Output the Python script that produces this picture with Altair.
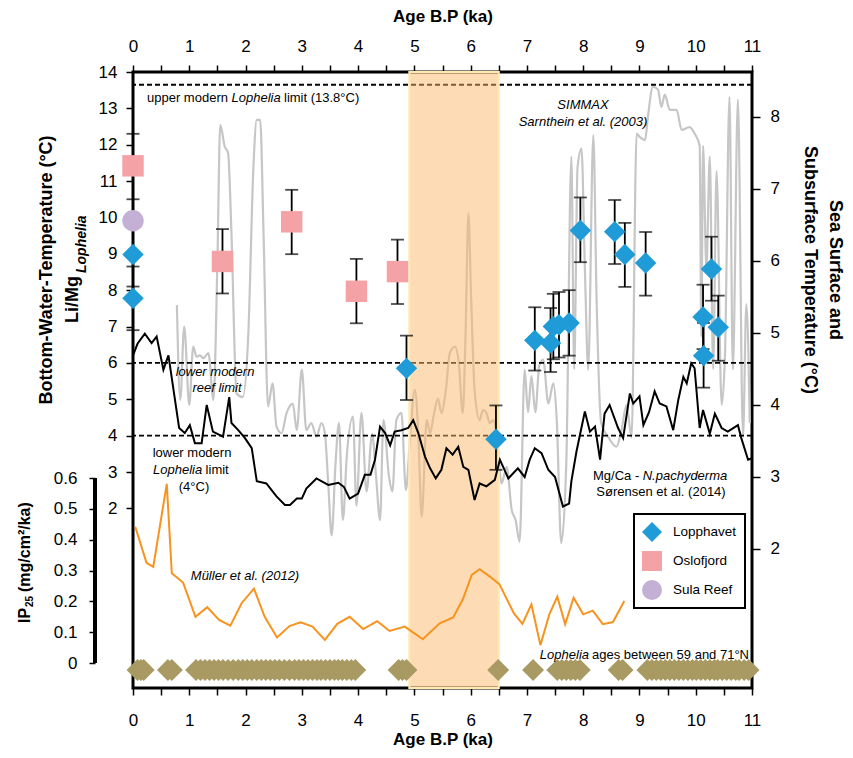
import altair as alt
import pandas as pd

FONT = "Liberation Sans"
W, H = 619, 616

# ---------------- data ----------------
lop_age = [0.0, 0.0, 4.86, 6.45, 7.14, 7.42, 7.47, 7.57, 7.75, 7.95, 8.56, 8.74, 9.11, 10.13, 10.14, 10.28, 10.40]
lop_T   = [8.98, 7.78, 5.85, 3.90, 6.62, 6.55, 7.00, 7.05, 7.10, 9.64, 9.61, 8.98, 8.75, 7.26, 6.20, 8.58, 6.98]
lop_lo  = [8.10, 6.90, 4.98, 3.06, 5.79, 5.75, 6.10, 6.15, 6.20, 8.77, 8.72, 8.09, 7.85, 6.38, 5.32, 7.71, 6.06]
lop_hi  = [9.85, 8.65, 6.75, 4.83, 7.53, 7.51, 7.90, 7.95, 8.00, 10.55, 10.48, 9.85, 9.60, 8.15, 7.10, 9.47, 7.85]

osl_age = [0.0, 1.59, 2.82, 3.97, 4.70]
osl_T   = [11.42, 8.79, 9.88, 7.97, 8.51]
osl_lo  = [10.50, 7.91, 8.99, 7.09, 7.62]
osl_hi  = [12.30, 9.68, 10.76, 8.86, 9.39]

sula_age = [0.0]
sula_T = [9.91]

sites = ["Lopphavet", "Oslofjord", "Sula Reef"]
site_colors = ["#1F9BD7", "#F4A2A5", "#C4B0D4"]
site_shapes = ["diamond", "square", "circle"]

limits_T = [13.65, 6.0, 4.0]

simmax_age = [0.78, 0.84, 0.91, 1.0, 1.07, 1.13, 1.19, 1.25, 1.34, 1.43, 1.50, 1.55, 1.63, 1.69, 1.75, 1.84,
              1.95, 2.05, 2.14, 2.20, 2.26, 2.32, 2.40, 2.48, 2.55, 2.64, 2.73, 2.84, 2.91, 3.0, 3.08, 3.17,
              3.26, 3.35, 3.41, 3.47, 3.53, 3.60, 3.66, 3.73, 3.80, 3.91, 3.97, 4.06, 4.15, 4.25, 4.32, 4.39,
              4.45, 4.55, 4.61, 4.68, 4.77, 4.85, 4.92, 5.01, 5.07, 5.13, 5.22, 5.28, 5.34, 5.42, 5.48, 5.56,
              5.63, 5.72, 5.79, 5.86, 5.91, 5.96, 6.01, 6.07, 6.16, 6.22, 6.28, 6.34, 6.40, 6.46, 6.55, 6.64,
              6.73, 6.80, 6.87, 6.96, 7.02, 7.08, 7.15, 7.22, 7.29, 7.38, 7.47, 7.53, 7.61, 7.70, 7.79, 7.84,
              7.90, 7.97, 8.03, 8.09, 8.18, 8.24, 8.32, 8.45, 8.59, 8.68, 8.77, 8.86, 8.95, 9.01, 9.10, 9.15,
              9.24, 9.33, 9.39, 9.45, 9.54, 9.66, 9.75, 9.89, 9.98, 10.07, 10.10, 10.13, 10.19, 10.25, 10.31,
              10.37, 10.46, 10.52, 10.60, 10.66, 10.75, 10.84, 10.90, 10.96]
simmax_R = [5.39, 4.07, 5.09, 4.00, 4.81, 4.67, 4.69, 4.65, 4.72, 4.07, 6.00, 7.89, 7.59, 7.50, 6.38, 4.16,
            4.11, 5.00, 7.31, 7.96, 7.96, 6.38, 3.98, 4.30, 3.70, 3.61, 3.89, 4.02, 3.65, 4.49, 3.65, 3.75,
            3.56, 3.75, 3.61, 2.90, 2.19, 3.20, 3.75, 2.40, 3.30, 3.84, 2.60, 3.89, 2.80, 3.60, 3.00, 2.40,
            3.79, 3.00, 2.80, 3.79, 3.89, 2.82, 3.50, 4.21, 3.60, 2.45, 3.79, 3.61, 3.84, 4.09, 3.89, 4.21,
            4.72, 4.81, 4.58, 3.89, 4.99, 6.66, 5.46, 4.21, 3.79, 3.93, 3.89, 3.75, 3.79, 3.61, 2.91, 3.14,
            2.54, 2.40, 2.10, 4.49, 3.90, 4.40, 3.90, 4.55, 4.63, 4.02, 4.30, 3.80, 2.08, 3.20, 7.45, 4.50,
            7.30, 7.56, 5.90, 4.49, 7.75, 5.40, 3.75, 3.55, 3.42, 3.65, 4.00, 3.55, 7.77, 7.72, 7.68, 8.00,
            8.42, 8.38, 8.14, 8.31, 8.10, 8.10, 7.82, 7.86, 7.77, 7.60, 4.95, 7.60, 5.90, 7.45, 4.50,
            7.25, 4.00, 4.70, 8.28, 4.49, 8.24, 3.56, 5.40, 3.75]

mgca_age = [0.0, 0.08, 0.21, 0.33, 0.42, 0.54, 0.63, 0.72, 0.82, 0.92, 1.01, 1.10, 1.22, 1.31, 1.42, 1.60,
            1.71, 1.75, 1.87, 1.99, 2.11, 2.20, 2.37, 2.55, 2.70, 2.79, 2.91, 3.0, 3.08, 3.26, 3.47, 3.65,
            3.75, 3.85, 4.0, 4.12, 4.22, 4.30, 4.39, 4.48, 4.57, 4.65, 4.77, 4.89, 4.98, 5.07, 5.19, 5.28,
            5.38, 5.48, 5.57, 5.68, 5.78, 5.87, 5.96, 6.07, 6.16, 6.28, 6.43, 6.52, 6.67, 6.84, 6.96, 7.05,
            7.14, 7.26, 7.38, 7.50, 7.64, 7.75, 7.79, 7.88, 8.03, 8.12, 8.21, 8.30, 8.38, 8.47, 8.62, 8.71,
            8.83, 8.89, 9.0, 9.07, 9.17, 9.27, 9.36, 9.48, 9.60, 9.69, 9.78, 9.84, 9.92, 9.98, 10.07, 10.13,
            10.25, 10.34, 10.46, 10.57, 10.75, 10.81, 10.93, 11.0]
mgca_R = [4.69, 4.85, 4.99, 4.86, 4.95, 4.49, 4.69, 4.21, 3.68, 3.61, 3.72, 3.47, 3.47, 4.00, 3.63, 3.56,
          4.11, 3.75, 3.65, 3.54, 3.40, 2.94, 2.91, 2.73, 2.61, 2.61, 2.70, 2.70, 2.84, 2.98, 2.89, 2.92,
          2.86, 2.70, 2.77, 3.03, 3.03, 3.24, 3.70, 3.61, 3.44, 3.63, 3.65, 3.68, 3.79, 3.61, 3.28, 3.12,
          2.98, 3.10, 3.40, 3.31, 3.42, 3.14, 3.10, 2.68, 2.91, 2.87, 2.96, 3.24, 2.98, 3.12, 3.00, 3.24,
          3.40, 3.33, 3.10, 3.00, 2.59, 2.63, 2.94, 3.35, 3.91, 3.63, 3.70, 3.24, 3.88, 4.00, 3.68, 3.54,
          4.16, 4.02, 4.12, 3.72, 3.90, 4.19, 4.02, 3.98, 3.65, 4.07, 4.39, 4.30, 4.58, 4.51, 3.68, 3.93,
          3.60, 3.88, 3.68, 3.63, 3.72, 3.54, 3.24, 3.26]

ip_age = [0.04, 0.24, 0.36, 0.60, 0.69, 0.89, 1.11, 1.32, 1.53, 1.73, 1.93, 2.15, 2.34, 2.56, 2.78, 2.98,
          3.19, 3.41, 3.63, 3.85, 4.09, 4.34, 4.56, 4.83, 5.15, 5.45, 5.69, 5.86, 6.02, 6.16, 6.33, 6.51,
          6.77, 6.92, 7.08, 7.24, 7.40, 7.54, 7.68, 7.83, 8.00, 8.17, 8.35, 8.53, 8.73]
ip_val = [0.442, 0.325, 0.312, 0.581, 0.291, 0.261, 0.150, 0.181, 0.140, 0.121, 0.194, 0.241, 0.150, 0.083,
          0.120, 0.132, 0.118, 0.075, 0.127, 0.150, 0.110, 0.136, 0.104, 0.118, 0.077, 0.129, 0.148, 0.206,
          0.286, 0.304, 0.282, 0.256, 0.161, 0.127, 0.190, 0.058, 0.159, 0.215, 0.126, 0.212, 0.158, 0.170,
          0.126, 0.133, 0.201]

lophelia_ages = [0.08, 0.14, 0.19, 0.62, 0.69,
                 1.12, 1.20, 1.28, 1.36, 1.44, 1.52, 1.60, 1.69, 1.78, 1.87, 1.95, 2.03, 2.11, 2.20, 2.28,
                 2.36, 2.44, 2.52, 2.60, 2.69, 2.78, 2.87, 2.95, 3.03, 3.11, 3.19, 3.27, 3.34, 3.42, 3.50,
                 3.58, 3.65, 3.72, 3.80, 3.88, 3.95,
                 4.72, 4.79, 4.86, 6.49, 7.11,
                 7.54, 7.62, 7.70, 7.78, 7.86, 7.94,
                 8.63, 8.70, 9.14, 9.22, 9.30, 9.38, 9.46, 9.54, 9.62, 9.70, 9.78, 9.86, 9.94, 10.01,
                 10.09, 10.17, 10.25, 10.33, 10.39, 10.47, 10.55, 10.63, 10.71, 10.77, 10.86, 10.94]

band_start, band_end = [4.91], [6.50]

x_ticks = [i / 2 for i in range(0, 23)]
T_ticks = list(range(2, 15))
R_ticks = list(range(2, 9))
IP_ticks = [0, 0.1, 0.2, 0.3, 0.4, 0.5, 0.6]

# ---------------- scales ----------------
X_DOM = [0, 11]
T_DOM = [-2.94, 14.0]
R_DOM = [0.069, 8.625]
I_DOM = [-0.081, 1.917]


def xs():
    return alt.Scale(domain=X_DOM, nice=False, zero=False)


def ys(dom):
    return alt.Scale(domain=dom, nice=False, zero=False)


LABEL = dict(labelFont=FONT, labelFontSize=17, labelColor="black", tickColor="black",
             tickWidth=1.5, domain=False, grid=False)
XEXPR = "datum.value % 1 == 0 ? datum.label : ''"

x_bottom = alt.Axis(orient="bottom", values=x_ticks, format="~g", labelExpr=XEXPR,
                    tickSize=7, labelPadding=17, title="Age B.P (ka)", titleFont=FONT, titleFontSize=17,
                    titleFontWeight="bold", titleColor="black", titlePadding=3, labelFlush=False,
                    labelOverlap=False, **LABEL)
x_top = alt.Axis(orient="top", values=x_ticks, format="~g", labelExpr=XEXPR,
                 tickSize=7, labelPadding=10, title="Age B.P (ka)", titleFont=FONT, titleFontSize=17,
                 titleFontWeight="bold", titleColor="black", titlePadding=12, labelFlush=False,
                 labelOverlap=False, **LABEL)
y_left = alt.Axis(orient="left", values=T_ticks, tickSize=7, labelPadding=9, title=None,
                  labelOverlap=False, **LABEL)
y_right = alt.Axis(orient="right", values=R_ticks, tickSize=8, labelPadding=10, title=None,
                   labelOverlap=False, **LABEL)
y_ip = alt.Axis(orient="left", offset=38, values=IP_ticks, format="~g", tickSize=6, labelPadding=12,
                title=None, labelOverlap=False, **LABEL)

# ---------------- frames ----------------
pts = pd.DataFrame({
    "site": ["Lopphavet"] * len(lop_age) + ["Oslofjord"] * len(osl_age) + ["Sula Reef"] * len(sula_age),
    "age": lop_age + osl_age + sula_age,
    "T": lop_T + osl_T + sula_T,
})
err = pd.DataFrame({"age": lop_age + osl_age, "lo": lop_lo + osl_lo, "hi": lop_hi + osl_hi})
lim = pd.DataFrame({"T": limits_T})
sim = pd.DataFrame({"age": simmax_age, "R": simmax_R})
mg = pd.DataFrame({"age": mgca_age, "R": mgca_R})
ip = pd.DataFrame({"age": ip_age, "v": ip_val})
row = pd.DataFrame({"age": lophelia_ages})
band = pd.DataFrame({"a": band_start, "b": band_end})
ipaxis = pd.DataFrame({"lo": [IP_ticks[0]], "hi": [IP_ticks[-1]]})

# ---------------- layers ----------------
grey = alt.Chart(sim).mark_line(color="#C6C6C6", strokeWidth=2.2, interpolate="monotone").encode(
    x=alt.X("age:Q", scale=xs(), axis=None),
    y=alt.Y("R:Q", scale=ys(R_DOM), axis=y_right))

dashed = alt.Chart(lim).mark_rule(color="black", strokeWidth=1.8, strokeDash=[5, 3]).encode(
    y=alt.Y("T:Q", scale=ys(T_DOM), axis=y_left))

band_l = alt.Chart(band).mark_rect(fill="#FBB96B", fillOpacity=0.5, stroke="#FFE9B0", strokeWidth=2).encode(
    x=alt.X("a:Q", scale=xs(), axis=x_top), x2="b:Q")

black = alt.Chart(mg).mark_line(color="black", strokeWidth=2).encode(
    x=alt.X("age:Q", scale=xs(), axis=None),
    y=alt.Y("R:Q", scale=ys(R_DOM), axis=None))

orange = alt.Chart(ip).mark_line(color="#F7931E", strokeWidth=2).encode(
    x=alt.X("age:Q", scale=xs(), axis=None),
    y=alt.Y("v:Q", scale=ys(I_DOM), axis=y_ip))

ip_line = alt.Chart(ipaxis).mark_rule(color="black", strokeWidth=4).encode(
    x=alt.value(-38),
    y=alt.Y("lo:Q", scale=ys(I_DOM), axis=None), y2="hi:Q")

row_l = alt.Chart(row).mark_point(shape="diamond", filled=True, size=480, color="#A89A62", opacity=1).encode(
    x=alt.X("age:Q", scale=xs(), axis=x_bottom),
    y=alt.value(598))

err_v = alt.Chart(err).mark_rule(color="black", strokeWidth=1.8).encode(
    x=alt.X("age:Q", scale=xs(), axis=None),
    y=alt.Y("lo:Q", scale=ys(T_DOM), axis=None), y2="hi:Q")
cap_lo = alt.Chart(err).mark_tick(color="black", orient="horizontal", size=13, thickness=1.8).encode(
    x=alt.X("age:Q", scale=xs(), axis=None),
    y=alt.Y("lo:Q", scale=ys(T_DOM), axis=None))
cap_hi = alt.Chart(err).mark_tick(color="black", orient="horizontal", size=13, thickness=1.8).encode(
    x=alt.X("age:Q", scale=xs(), axis=None),
    y=alt.Y("hi:Q", scale=ys(T_DOM), axis=None))

leg = alt.Legend(title=None, orient="none", legendX=501, legendY=442, symbolSize=400, labelFont=FONT,
                 labelFontSize=13.5, labelColor="black", rowPadding=9, padding=8, labelOffset=11,
                 strokeColor="black", symbolStrokeWidth=0)
points = alt.Chart(pts).mark_point(filled=True, size=460, opacity=1, strokeWidth=0).encode(
    x=alt.X("age:Q", scale=xs(), axis=None),
    y=alt.Y("T:Q", scale=ys(T_DOM), axis=None),
    color=alt.Color("site:N", scale=alt.Scale(domain=sites, range=site_colors), legend=leg),
    shape=alt.Shape("site:N", scale=alt.Scale(domain=sites, range=site_shapes), legend=leg))


def txt(t, x, y, size=13, style="normal", weight="normal", align="left", angle=0):
    return alt.Chart(pd.DataFrame({"t": [t]})).mark_text(
        font=FONT, fontSize=size, fontStyle=style, fontWeight=weight, align=align,
        baseline="middle", angle=angle, color="black").encode(
        text="t:N", x=alt.value(x), y=alt.value(y))


texts = [
    txt("upper modern", 14, 26),
    txt("Lophelia", 98.5, 26, style="italic"),
    txt("limit (13.8°C)", 151, 26),
    txt("SIMMAX", 450, 33, style="italic", align="center"),
    txt("Sarnthein et al. (2003)", 450, 50, style="italic", align="center"),
    txt("lower modern", 82, 300, style="italic", align="center"),
    txt("reef limit", 84, 316, style="italic", align="center"),
    txt("lower modern", 59, 381, align="center"),
    txt("Lophelia", 20, 398, style="italic"),
    txt("limit", 72.6, 398),
    txt("(4°C)", 61, 415, align="center"),
    txt("Mg/Ca -", 460, 404),
    txt("N.pachyderma", 509.7, 404, style="italic"),
    txt("Sørensen et al. (2014)", 528, 420, align="center"),
    txt("Müller et al. (2012)", 112, 504, style="italic", align="center"),
    txt("Lophelia", 456, 583, style="italic", align="right"),
    txt("ages between 59 and 71°N", 616, 583, align="right"),
    txt("Bottom-Water-Temperature (°C)", -86, 198, size=18, weight="bold", align="center", angle=270),
    txt("Li/Mg", -60, 251, size=18, weight="bold", angle=270),
    txt("Lophelia", -51, 201, size=14, style="italic", weight="bold", angle=270),
    txt("IP", -108, 551, size=16, weight="bold", angle=270),
    txt("25", -103, 535, size=10, weight="bold", angle=270),
    txt("(mg/cm²/ka)", -108, 520, size=16, weight="bold", angle=270),
    txt("Sea Surface and", 702, 198, size=18, weight="bold", align="center", angle=90),
    txt("Subsurface Temperature (°C)", 677, 198, size=18, weight="bold", align="center", angle=90),
]

chart = alt.layer(grey, dashed, band_l, black, orange, ip_line, row_l, err_v, cap_lo, cap_hi, points, *texts
                  ).resolve_scale(x="independent", y="independent").properties(
    width=W, height=H,
    autosize=alt.AutoSizeParams(type="none"),
    padding={"left": 125, "top": 64, "right": 93, "bottom": 62},
).configure_view(stroke="black", strokeWidth=3).configure_legend(strokeWidth=2)

chart.save("out.html", embed_options={"renderer": "svg", "actions": False})
